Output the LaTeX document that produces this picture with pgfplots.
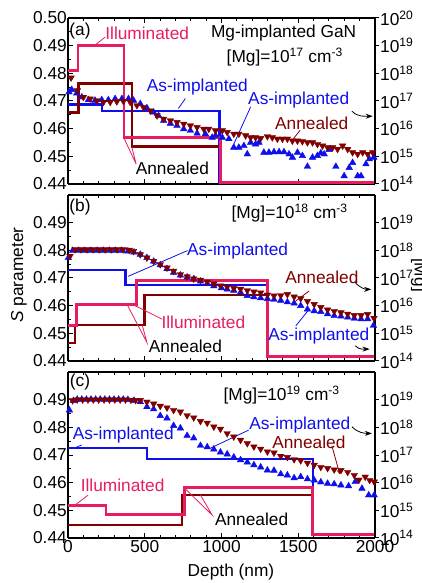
\documentclass[border=0pt]{standalone}
\usepackage{pgfplots}
\pgfplotsset{compat=1.18}
\usepackage{fontspec}
\setmainfont{Liberation Sans}
\usetikzlibrary{arrows.meta}
\definecolor{illum}{RGB}{230,30,95}
\definecolor{anneal}{RGB}{128,0,0}
\definecolor{asimp}{RGB}{15,15,235}
\newcommand{\fs}{\fontsize{17.3}{20}\selectfont}
\pgfplotsset{
  panel/.style={scale only axis, width=307pt, height=166pt, xmin=0, xmax=2000,
    clip=false, anchor=south west, font=\fs,
    /pgf/number format/assume math mode=true},
  leftax/.style={panel, axis y line*=left, ymin=0.44, ymax=0.50,
    xtick={0,500,1000,1500,2000}, minor x tick num=4, minor y tick num=1,
    tick align=inside, major tick length=5pt, minor tick length=3pt,
    axis line style={line width=1.3pt}, every tick/.style={line width=1pt, black},
    yticklabel style={inner xsep=1pt}, xticklabel style={inner ysep=2pt}},
  rightax/.style={panel, axis y line*=right, axis x line=none, ymin=14, ymax=20,
    tick align=outside, major tick length=4pt,
    axis line style={line width=1.3pt}, every tick/.style={line width=1pt, black},
    yticklabel style={inner xsep=1pt}},
  stepI/.style={color=illum, line width=2.8pt, no marks},
  stepA/.style={color=anneal, line width=2.6pt, no marks},
  stepB/.style={color=asimp, line width=2.2pt, no marks},
  mkB/.style={only marks, mark=triangle*, mark size=3.8pt, color=asimp},
  mkA/.style={only marks, mark=triangle*, mark size=3.8pt, color=anneal, mark options={rotate=180}},
}
\begin{document}
\begin{tikzpicture}[font=\fs]
\useasboundingbox (0,0) rectangle (422pt,583pt);
% ================= Panel (a) =================
\begin{axis}[leftax, at={(68pt,399pt)},
  ytick={0.44,0.45,0.46,0.47,0.48,0.49,0.50},
  yticklabels={0.44,0.45,0.46,0.47,0.48,0.49,0.50}, xticklabels={}]
\addplot[stepB] coordinates {(0,0.4687)(222,0.4687)(222,0.4665)(987,0.4665)(987,0.4405)(2000,0.4405)};
\addplot[stepA] coordinates {(0,0.4658)(67,0.4658)(67,0.4764)(418,0.4764)(418,0.4535)(990,0.4535)(990,0.4405)(2000,0.4405)};
\addplot[stepI] coordinates {(0,0.481)(65,0.481)(65,0.490)(365,0.490)(365,0.4567)(993,0.4567)(993,0.4405)(2000,0.4405)};
\end{axis}
\begin{axis}[rightax, at={(68pt,399pt)},
  ytick={14,15,16,17,18,19,20},
  yticklabels={10\textsuperscript{14},10\textsuperscript{15},10\textsuperscript{16},10\textsuperscript{17},10\textsuperscript{18},10\textsuperscript{19},10\textsuperscript{20}}]
\addplot[mkB] table {
7 17.32
24 17.41
57 17.28
90 17.14
133 17.04
176 17.02
220 17.04
263 17.04
307 17.08
351 17.08
394 17.08
427 17.02
471 16.90
514 16.75
558 16.59
590 16.47
623 16.29
667 16.19
710 16.11
754 15.99
797 15.93
841 15.83
895 15.81
939 15.68
961 15.75
1005 15.68
1048 15.63
1080 15.32
1113 15.32
1146 15.38
1168 15.08
1190 15.50
1222 15.44
1244 15.50
1276 15.14
1309 15.14
1342 15.16
1375 15.16
1407 15.16
1440 15.08
1462 14.96
1495 15.14
1527 15.02
1560 14.63
1593 14.96
1625 15.02
1647 15.12
1669 15.08
1701 15.24
1745 14.63
1799 14.29
1832 14.59
1854 14.77
1887 14.29
1909 14.29
1941 14.72
1963 14.90
1992 14.96
};
\addplot[mkA] table {
20 17.84
61 17.38
100 17.14
144 17.08
188 17.02
231 16.96
275 16.96
318 16.98
361 16.99
405 16.96
449 16.84
492 16.77
536 16.65
580 16.47
623 16.35
667 16.29
710 16.23
754 16.17
797 16.11
841 16.05
884 15.99
917 15.99
961 15.93
1005 15.93
1037 15.87
1080 15.81
1113 15.81
1157 15.75
1190 15.68
1222 15.68
1255 15.65
1299 15.72
1331 15.68
1364 15.63
1397 15.63
1429 15.63
1462 15.56
1495 15.56
1527 15.54
1560 15.50
1593 15.50
1625 15.44
1658 15.38
1691 15.32
1724 15.32
1756 15.26
1789 15.38
1822 15.26
1854 15.14
1887 15.08
1920 15.14
1952 15.08
1985 15.14
};
\node at (axis cs:78,19.53) {(a)};
\node[text=illum] at (axis cs:516,19.45) {Illuminated};
\draw[illum, line width=0.8pt] (axis cs:176,19.02) -- (axis cs:242,19.31);
\node at (axis cs:1405,19.45) {Mg-implanted GaN};
\node at (axis cs:1412,18.58) {[Mg]=10\textsuperscript{17} cm\textsuperscript{-3}};
\node[text=asimp] at (axis cs:843,17.49) {As-implanted};
\draw[asimp, line width=0.8pt] (axis cs:719,16.73) -- (axis cs:765,17.09);
\node[text=asimp] at (axis cs:1503,17.02) {As-implanted};
\draw[asimp, line width=0.8pt] (axis cs:1190,16.79) -- (axis cs:1080,15.44);
\draw[line width=0.8pt, -{Stealth[length=7pt,width=5pt]}] (axis cs:1850,16.63) to[out=-45,in=180] (axis cs:1985,16.45);
\node[text=anneal] at (axis cs:1588,16.18) {Annealed};
\draw[anneal, line width=0.8pt] (axis cs:1512,15.94) -- (axis cs:1469,15.64);
\node at (axis cs:680,14.55) {Annealed};
\draw[illum, line width=0.8pt] (axis cs:362,15.69) -- (axis cs:444,14.72) -- (axis cs:416,15.33);
\end{axis}
% ================= Panel (b) =================
\begin{axis}[leftax, at={(68pt,222pt)},
  ytick={0.44,0.45,0.46,0.47,0.48,0.49},
  yticklabels={0.44,0.45,0.46,0.47,0.48,0.49}, xticklabels={}]
\addplot[stepB] coordinates {(0,0.4728)(375,0.4728)(375,0.4675)(1300,0.4675)(1300,0.4415)(2000,0.4415)};
\addplot[stepA] coordinates {(0,0.4465)(45,0.4465)(45,0.4530)(500,0.4530)(500,0.4639)(1300,0.4639)(1300,0.4415)(2000,0.4415)};
\addplot[stepI] coordinates {(0,0.4527)(55,0.4527)(55,0.4605)(445,0.4605)(445,0.4691)(1300,0.4691)(1300,0.4415)(2000,0.4415)};
\end{axis}
\begin{axis}[rightax, at={(68pt,222pt)},
  ytick={14,15,16,17,18,19},
  yticklabels={10\textsuperscript{14},10\textsuperscript{15},10\textsuperscript{16},10\textsuperscript{17},10\textsuperscript{18},10\textsuperscript{19}}]
\addplot[mkB] table {
2 17.73
30 17.99
70 17.99
110 17.99
150 17.99
190 17.99
230 17.99
270 17.99
310 17.99
350 17.99
390 17.97
430 17.93
471 17.85
514 17.73
558 17.60
601 17.47
645 17.33
688 17.20
732 17.10
776 17.03
820 16.97
863 16.88
907 16.80
950 16.71
1000 16.64
1037 16.59
1080 16.55
1124 16.48
1168 16.36
1211 16.31
1255 16.28
1299 16.25
1342 16.22
1386 16.19
1429 16.13
1473 16.09
1516 16.00
1560 15.87
1604 15.81
1647 15.78
1691 15.70
1734 15.64
1778 15.62
1822 15.58
1865 15.54
1909 15.52
1952 15.52
1990 15.28
};
\addplot[mkA] table {
13 17.79
46 18.03
85 18.03
124 18.03
163 18.03
203 18.03
242 18.03
281 18.03
320 18.03
359 18.03
399 18.01
427 17.97
471 17.85
514 17.73
558 17.61
601 17.49
645 17.37
688 17.25
732 17.13
776 17.05
819 16.97
863 16.93
907 16.86
950 16.79
993 16.72
1037 16.68
1080 16.63
1124 16.60
1168 16.55
1211 16.50
1255 16.47
1299 16.39
1342 16.36
1386 16.37
1429 16.41
1473 16.32
1516 16.26
1560 16.16
1604 16.05
1647 15.94
1691 15.85
1734 15.80
1778 15.75
1822 15.70
1865 15.65
1909 15.65
1952 15.69
1993 15.55
};
\node at (axis cs:78,19.58) {(b)};
\node at (axis cs:1444,19.36) {[Mg]=10\textsuperscript{18} cm\textsuperscript{-3}};
\node[text=asimp] at (axis cs:1105,17.96) {As-implanted};
\draw[asimp, line width=0.8pt] (axis cs:778,17.99) -- (axis cs:392,17.06);
\node[text=anneal] at (axis cs:1654,17.02) {Annealed};
\draw[anneal, line width=0.8pt] (axis cs:1571,16.53) -- (axis cs:1484,16.17);
\draw[line width=0.8pt, -{Stealth[length=7pt,width=5pt]}] (axis cs:1869,16.84) to[out=-45,in=180] (axis cs:1975,16.59);
\node[text=asimp] at (axis cs:1634,14.90) {As-implanted};
\draw[asimp, line width=0.8pt] (axis cs:1484,15.27) -- (axis cs:1571,15.87);
\draw[line width=0.8pt, -{Stealth[length=7pt,width=5pt]}] (axis cs:1871,14.55) to[out=-45,in=180] (axis cs:1965,14.43);
\node[text=illum] at (axis cs:882,15.40) {Illuminated};
\draw[illum, line width=0.8pt] (axis cs:614,15.51) -- (axis cs:418,16.05);
\node at (axis cs:765,14.54) {Annealed};
\draw[illum, line width=0.8pt] (axis cs:384,16.05) -- (axis cs:514,14.67) -- (axis cs:484,15.29);
\end{axis}
% ================= Panel (c) =================
\begin{axis}[leftax, at={(68pt,45pt)},
  ytick={0.44,0.45,0.46,0.47,0.48,0.49},
  yticklabels={0.44,0.45,0.46,0.47,0.48,0.49},
  xticklabels={0,500,1000,1500,2000}]
\addplot[stepB] coordinates {(0,0.4724)(514,0.4724)(514,0.4685)(1595,0.4685)(1595,0.4414)(2000,0.4414)};
\addplot[stepA] coordinates {(0,0.4447)(743,0.4447)(743,0.4555)(1595,0.4555)(1595,0.4414)(2000,0.4414)};
\addplot[stepI] coordinates {(0,0.4517)(248,0.4517)(248,0.4486)(761,0.4486)(761,0.4583)(1595,0.4583)(1595,0.4414)(2000,0.4414)};
\end{axis}
\begin{axis}[rightax, at={(68pt,45pt)},
  ytick={14,15,16,17,18,19},
  yticklabels={10\textsuperscript{14},10\textsuperscript{15},10\textsuperscript{16},10\textsuperscript{17},10\textsuperscript{18},10\textsuperscript{19}}]
\addplot[mkB] table {
9 18.62
35 18.96
60 19.01
90 19.01
120 19.01
150 19.01
180 19.01
210 19.01
240 19.01
270 19.01
300 19.01
330 19.01
360 19.01
390 19.00
430 18.97
471 18.92
514 18.74
558 18.66
601 18.42
645 18.33
688 18.06
732 17.97
776 17.70
819 17.61
863 17.34
907 17.29
950 17.21
993 17.10
1037 17.03
1080 16.92
1124 16.82
1168 16.74
1211 16.64
1255 16.56
1299 16.45
1342 16.44
1386 16.31
1429 16.27
1473 16.17
1516 16.21
1560 16.13
1604 16.09
1647 16.02
1691 15.97
1734 15.95
1778 15.91
1828 15.88
1871 16.03
1915 15.79
1959 15.55
1995 15.55
};
\addplot[mkA] table {
30 18.97
60 19.00
95 19.00
130 19.00
165 19.00
200 19.00
235 19.00
270 19.00
305 19.00
340 19.00
375 19.00
410 18.99
440 18.98
471 18.98
514 18.92
558 18.85
601 18.77
645 18.71
688 18.62
732 18.56
776 18.43
819 18.35
863 18.22
907 18.16
950 18.02
993 17.94
1037 17.78
1080 17.66
1124 17.54
1168 17.42
1211 17.30
1255 17.22
1299 17.12
1342 17.08
1386 16.96
1429 16.92
1473 16.84
1516 16.80
1560 16.71
1604 16.64
1647 16.56
1691 16.52
1734 16.47
1778 16.45
1822 16.38
1865 16.27
1895 16.10
1936 16.21
1965 16.09
1995 16.03
};
\node at (axis cs:78,19.64) {(c)};
\node at (axis cs:1392,19.16) {[Mg]=10\textsuperscript{19} cm\textsuperscript{-3}};
\node[text=asimp] at (axis cs:360,17.72) {As-implanted};
\draw[asimp, line width=0.8pt] (axis cs:89,17.36) -- (axis cs:35,17.24);
\node[text=asimp] at (axis cs:1510,18.08) {As-implanted};
\draw[asimp, line width=0.8pt] (axis cs:1177,17.90) -- (axis cs:928,17.25);
\draw[line width=0.8pt, -{Stealth[length=7pt,width=5pt]}] (axis cs:1850,18.02) to[out=-45,in=180] (axis cs:1980,17.78);
\node[text=anneal] at (axis cs:1569,17.47) {Annealed};
\draw[anneal, line width=0.8pt, -{Stealth[length=5pt,width=4pt]}] (axis cs:1719,17.33) -- (axis cs:1771,16.30);
\node[text=illum] at (axis cs:356,15.91) {Illuminated};
\draw[illum, line width=0.8pt] (axis cs:131,15.55) -- (axis cs:46,15.19);
\node at (axis cs:1196,14.69) {Annealed};
\draw[illum, line width=0.8pt] (axis cs:754,15.83) -- (axis cs:939,14.83) -- (axis cs:863,15.55);
\end{axis}
\node[rotate=90] at (19pt,308pt) {\textit{S} parameter};
\node[rotate=-90] at (419pt,308pt) {[Mg]};
\node at (231pt,11pt) {Depth (nm)};
\end{tikzpicture}
\end{document}
